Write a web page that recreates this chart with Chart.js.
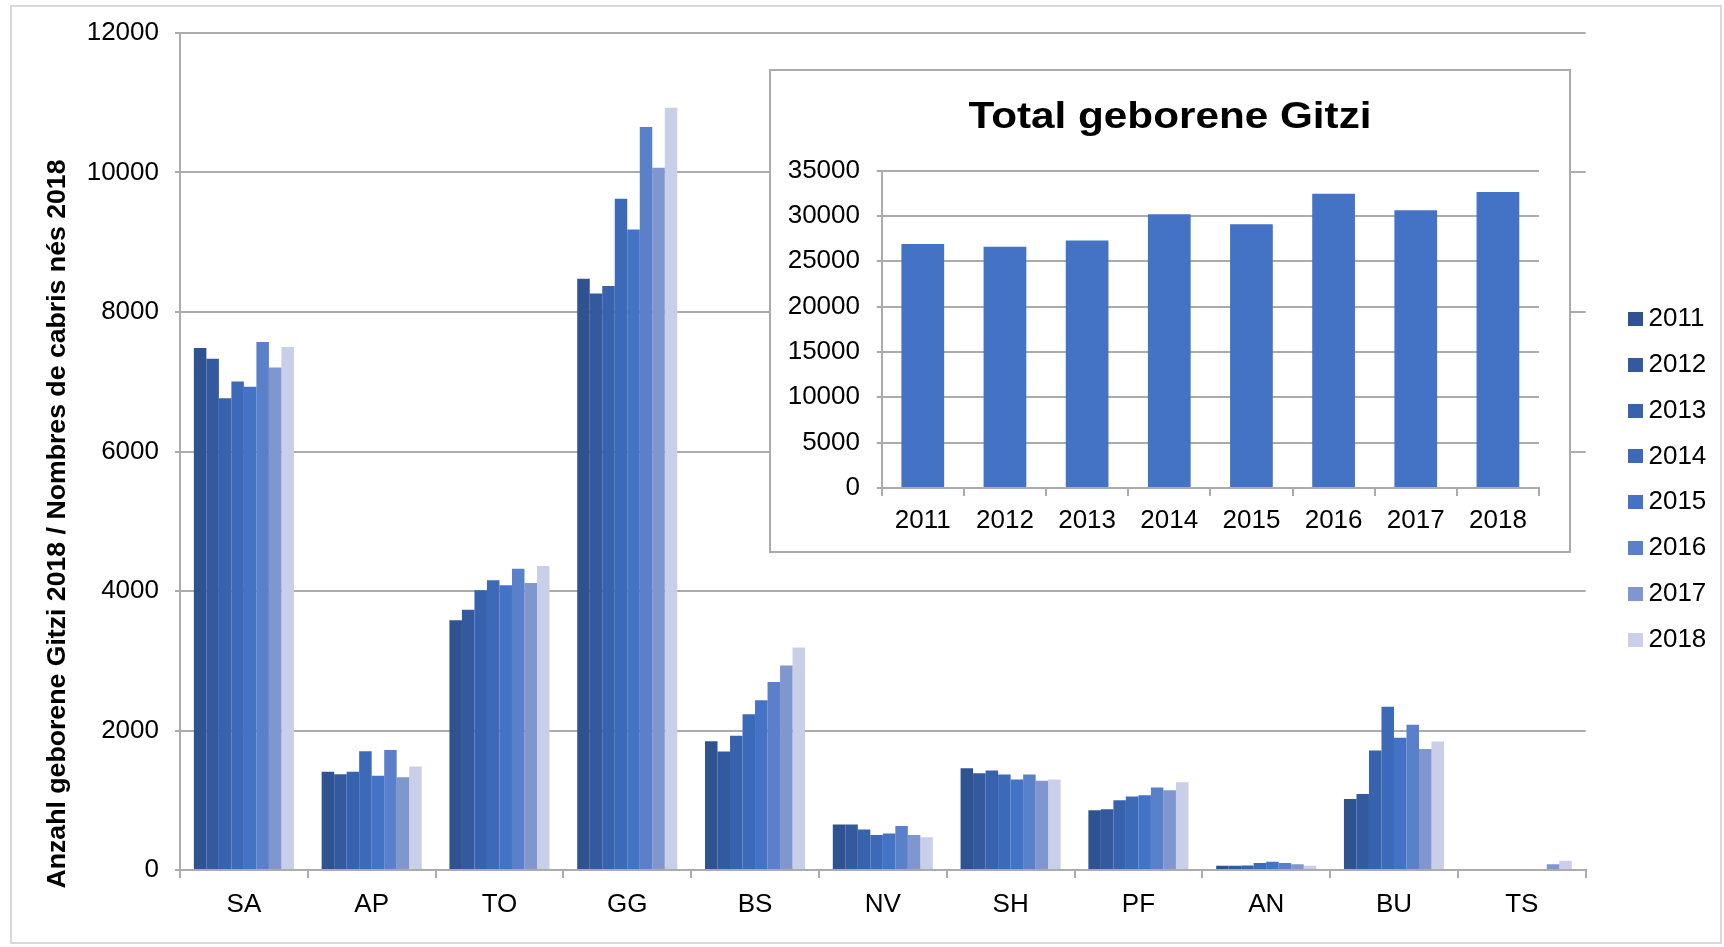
<!DOCTYPE html>
<html>
<head>
<meta charset="utf-8">
<script src="https://cdn.jsdelivr.net/npm/chart.js@4.4.1/dist/chart.umd.min.js"></script>
<style>
html,body{margin:0;padding:0;background:#fff;}
#wrap{position:relative;width:1724px;height:947px;overflow:hidden;background:#fff;}
#frame{position:absolute;left:10px;top:5px;width:1712px;height:939px;border:2px solid #D9D9D9;box-sizing:border-box;}
#main{position:absolute;left:0;top:0;}
#insetBox{position:absolute;left:769px;top:69px;width:802px;height:484px;border:2px solid #ABABAB;box-sizing:border-box;background:#fff;}
#inset{position:absolute;left:0;top:0;}
</style>
</head>
<body>
<div id="wrap">
  <div id="frame"></div>
  <canvas id="main" width="1724" height="947"></canvas>
  <div id="insetBox"><canvas id="inset" width="798" height="480"></canvas></div>
</div>
<script>
// ---------- data ----------
const categories = ['SA','AP','TO','GG','BS','NV','SH','PF','AN','BU','TS'];
const years = ['2011','2012','2013','2014','2015','2016','2017','2018'];
const v2011 = [7484, 1407, 3582, 8477, 1847, 651, 1459, 856, 62, 1017, 0];
const v2012 = [7330, 1374, 3731, 8267, 1699, 651, 1388, 871, 62, 1088, 0];
const v2013 = [6764, 1407, 4011, 8372, 1923, 579, 1426, 1000, 65, 1714, 0];
const v2014 = [7005, 1703, 4154, 9625, 2234, 502, 1368, 1053, 100, 2339, 0];
const v2015 = [6929, 1352, 4082, 9182, 2435, 522, 1297, 1072, 119, 1895, 0];
const v2016 = [7571, 1720, 4319, 10652, 2694, 632, 1368, 1182, 100, 2081, 0];
const v2017 = [7203, 1330, 4115, 10067, 2933, 502, 1278, 1144, 81, 1733, 81];
const v2018 = [7500, 1484, 4357, 10930, 3191, 469, 1297, 1258, 62, 1842, 134];
const totals = [26889, 26593, 27296, 30185, 29074, 32444, 30630, 32630];
const yAxisTitle = 'Anzahl geborene Gitzi 2018 / Nombres de cabris nés 2018';
const insetTitle = 'Total geborene Gitzi';

// ---------- styles ----------
const seriesValues = [v2011, v2012, v2013, v2014, v2015, v2016, v2017, v2018];
const seriesColors = ['#2F5290','#335A9E','#3862AD','#3C69B8','#4472C4','#5B80CA','#8096CF','#C9CFE9'];
const gridColor = '#ABABAB';
const FONT = "'Liberation Sans', Arial, sans-serif";
const plainNumber = v => String(v);

Chart.defaults.font.family = FONT;
Chart.defaults.font.size = 26;
Chart.defaults.color = '#000';

function makeSwatch(color) {
  const c = document.createElement('canvas');
  c.width = 15; c.height = 14;
  const g = c.getContext('2d');
  g.fillStyle = color; g.fillRect(0, 0, 15, 14);
  return c;
}
const swatches = seriesColors.map(makeSwatch);

const yTitlePlugin = {
  id: 'yTitle',
  afterDraw(chart) {
    const ctx = chart.ctx;
    ctx.save();
    ctx.font = 'bold 26px ' + FONT;
    const w = ctx.measureText(yAxisTitle).width;
    ctx.translate(64.6, 524);
    ctx.rotate(-Math.PI / 2);
    ctx.scale(729 / w, 1);
    ctx.fillStyle = '#000';
    ctx.textAlign = 'center';
    ctx.textBaseline = 'alphabetic';
    ctx.fillText(yAxisTitle, 0, 0);
    ctx.restore();
  }
};

new Chart(document.getElementById('main'), {
  type: 'bar',
  data: {
    labels: categories,
    datasets: years.map((y, i) => ({
      label: y,
      data: seriesValues[i],
      backgroundColor: seriesColors[i],
      borderWidth: 0,
      categoryPercentage: 0.783,
      barPercentage: 1.0
    }))
  },
  options: {
    responsive: false,
    animation: false,
    devicePixelRatio: 1,
    layout: { padding: { top: 33, right: 7.7, bottom: 21.4, left: 0 } },
    plugins: {
      tooltip: { enabled: false },
      title: { display: false },
      legend: {
        display: true,
        position: 'right',
        align: 'center',
        labels: {
          usePointStyle: true,
          pointStyleWidth: 0.001,
          boxHeight: 14,
          padding: 19.8,
          color: '#000',
          font: { size: 26 },
          generateLabels(chart) {
            const items = Chart.defaults.plugins.legend.labels.generateLabels(chart);
            return items.map(it => Object.assign(it, { pointStyle: swatches[it.datasetIndex] }));
          }
        }
      }
    },
    scales: {
      x: {
        grid: { display: true, drawOnChartArea: false, drawTicks: true, tickLength: 8, color: gridColor, lineWidth: 2 },
        border: { display: true, color: gridColor, width: 2 },
        ticks: { padding: 11.4, color: '#000', font: { size: 26 } },
        afterFit(s) { s.height = 55.6; }
      },
      y: {
        min: 0, max: 12000,
        grid: { color: gridColor, lineWidth: 2, drawTicks: true, tickLength: 5 },
        border: { display: true, color: gridColor, width: 2 },
        ticks: { stepSize: 2000, padding: 16, color: '#000', font: { size: 26 }, callback: plainNumber },
        afterFit(s) { s.width = 180; }
      },
      yR: {
        type: 'linear',
        position: 'right',
        display: true,
        grid: { display: false },
        border: { display: false },
        ticks: { display: false },
        afterFit(s) { s.width = 30; }
      }
    }
  },
  plugins: [yTitlePlugin]
});

const insetTitlePlugin = {
  id: 'insetTitle',
  afterDraw(chart) {
    const ctx = chart.ctx;
    ctx.save();
    ctx.font = 'bold 36px ' + FONT;
    const w = ctx.measureText(insetTitle).width;
    ctx.translate(399, 56.5);
    ctx.scale(403 / w, 1);
    ctx.fillStyle = '#000';
    ctx.textAlign = 'center';
    ctx.textBaseline = 'alphabetic';
    ctx.fillText(insetTitle, 0, 0);
    ctx.restore();
  }
};

new Chart(document.getElementById('inset'), {
  type: 'bar',
  data: {
    labels: years,
    datasets: [{
      label: 'Total',
      data: totals,
      backgroundColor: '#4472C4',
      borderWidth: 0,
      categoryPercentage: 1.0,
      barPercentage: 0.52
    }]
  },
  options: {
    responsive: false,
    animation: false,
    devicePixelRatio: 1,
    layout: { padding: { top: 99.5, right: 30, bottom: 0, left: 0 } },
    plugins: { legend: { display: false }, tooltip: { enabled: false }, title: { display: false } },
    scales: {
      x: {
        grid: { display: true, drawOnChartArea: false, drawTicks: true, tickLength: 8, color: gridColor, lineWidth: 2 },
        border: { display: true, color: gridColor, width: 2 },
        ticks: { padding: 9.4, color: '#000', font: { size: 26 } },
        afterFit(s) { s.height = 63; }
      },
      y: {
        min: 0, max: 35000,
        grid: { color: gridColor, lineWidth: 2, drawTicks: true, tickLength: 5 },
        border: { display: true, color: gridColor, width: 2 },
        ticks: { stepSize: 5000, padding: 16.7, color: '#000', font: { size: 26 }, callback: plainNumber },
        afterFit(s) { s.width = 110.7; }
      }
    }
  },
  plugins: [insetTitlePlugin]
});
</script>
</body>
</html>
